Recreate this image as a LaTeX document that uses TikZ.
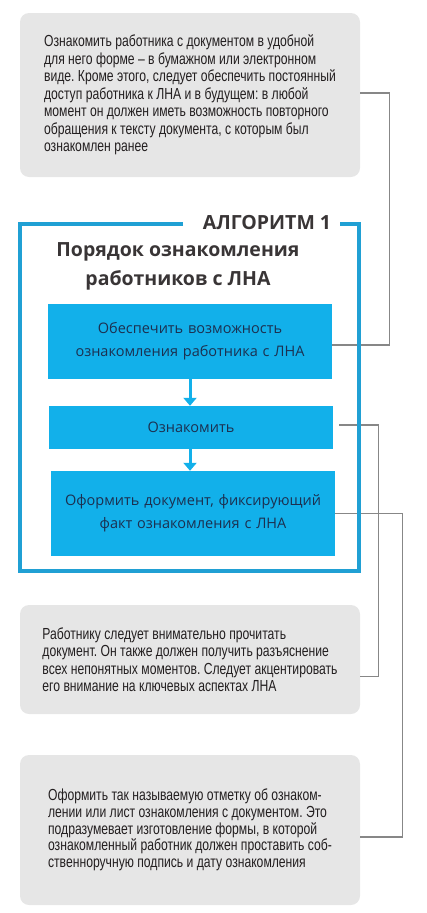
\documentclass[tikz,border=0pt]{standalone}
\usepackage{fontspec}
\setmainfont{Open Sans}
\newfontfamily\notefont{Liberation Sans}[FakeStretch=0.76]
\usetikzlibrary{arrows.meta,positioning,calc}
\definecolor{notegray}{RGB}{230,230,230}
\definecolor{stepblue}{RGB}{18,176,234}
\definecolor{framblue}{RGB}{32,160,212}
\definecolor{steptext}{RGB}{28,48,80}
\definecolor{linkgray}{RGB}{135,135,135}
\definecolor{inkgray}{RGB}{35,31,32}
\frenchspacing

\begin{document}
\begin{tikzpicture}[
    x=1pt, y=-1pt,
    note/.style = {rectangle, rounded corners=9pt, fill=notegray, minimum width=340pt, inner xsep=20pt, align=left, text=inkgray, font=\notefont\fontsize{16}{17.5}\selectfont},
    stepbox/.style = {rectangle, fill=stepblue, minimum width=284pt, text width=270pt, align=center, text=steptext, font=\fontsize{14.5}{23}\selectfont},
    heading/.style = {text=inkgray!90, align=center},
    link/.style = {draw=linkgray, line width=1.1pt},
    flow/.style = {draw=stepblue, line width=3pt, -{Triangle[width=13pt,length=8pt]}},
    frame/.style = {draw=framblue, line width=3.5pt}
]
    \useasboundingbox (0,0) rectangle (426,913);
    % Notes on grey
    \node[note, minimum height=164pt] (note1) at (190,95) {Ознакомить работника с документом в удобной\\
        для него форме – в бумажном или электронном\\
        виде. Кроме этого, следует обеспечить постоянный\\
        доступ работника к ЛНА и в будущем: в любой\\
        момент он должен иметь возможность повторного\\
        обращения к тексту документа, с которым был\\
        ознакомлен ранее};
    \node[note, minimum height=109pt] (note2) at (190,659.5) {Работнику следует внимательно прочитать\\
        документ. Он также должен получить разъяснение\\
        всех непонятных моментов. Следует акцентировать\\
        его внимание на ключевых аспектах ЛНА};
    \node[note, minimum height=150pt, font=\notefont\fontsize{16}{16.7}\selectfont] (note3) at (190,830) {Оформить так называемую отметку об ознаком-\\
        лении или лист ознакомления с документом. Это\\
        подразумевает изготовление формы, в которой\\
        ознакомленный работник должен проставить соб-\\
        ственноручную подпись и дату ознакомления};
    % Algorithm steps
    \node[heading, font=\bfseries\fontsize{19.5}{24}\selectfont] (title) at (267,223) {АЛГОРИТМ 1};
    \node[heading, font=\bfseries\fontsize{19.5}{29}\selectfont] (subtitle) at (178,266) {Порядок ознакомления\\работников с ЛНА};
    \node[stepbox, minimum height=75pt] (step1) at (190,341.5) {Обеспечить возможность\\ознакомления работника с ЛНА};
    \node[stepbox, minimum height=43pt] (step2) at (191,427.5) {Ознакомить};
    \node[stepbox, minimum height=85pt] (step3) at (193,513.5) {Оформить документ, фиксирующий\\факт ознакомления с ЛНА};
    % Connectors
    \draw[link] ([yshift=2pt]note1.east) -- ++(29,0) |- ([yshift=-3.5pt]step1.east);
    \draw[link] ([xshift=6pt,yshift=2.5pt]step2.east) -- ++(39,0) |- ([yshift=-17pt]note2.east);
    \draw[link] (step3.east) -- ++(67,0) |- ([yshift=-7pt]note3.east);
    % Frame
    \draw[frame] (183,224) -- (20,224) -- (20,571) -- (359,571) -- (359,224) -- (340,224);
    % Arrows
    \draw[flow] (step1.south -| 190,0) -- (step2.north -| 190,0);
    \draw[flow] (step2.south -| 190,0) -- (step3.north -| 190,0);
\end{tikzpicture}
\end{document}
